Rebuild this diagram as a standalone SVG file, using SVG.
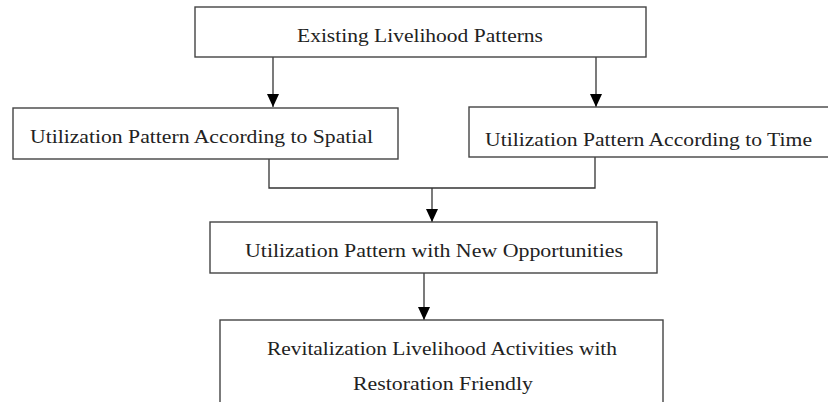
<svg xmlns="http://www.w3.org/2000/svg" width="828" height="402" viewBox="0 0 828 402">
<style>
.box{fill:#fff;stroke:#444;stroke-width:1.4}
.t{font-family:"Liberation Serif","Times New Roman",serif;font-size:19.5px;fill:#222;text-anchor:middle}
.c{fill:none;stroke:#333;stroke-width:1.3}
</style>
<defs>
<marker id="ah" markerUnits="userSpaceOnUse" markerWidth="12" markerHeight="14" viewBox="0 0 12 14" refX="6" refY="13" orient="0">
<path d="M0,0 L12,0 L6,13 Z" fill="#000"/>
</marker>
</defs>
<rect width="828" height="402" fill="#fff"/>
<g id="connectors">
<path class="c" d="M273,57 V107" marker-end="url(#ah)"/>
<path class="c" d="M596,57 V107" marker-end="url(#ah)"/>
<path class="c" d="M269,159 V188 H595 V157"/>
<path class="c" d="M432,188 V222" marker-end="url(#ah)"/>
<path class="c" d="M424,273 V320" marker-end="url(#ah)"/>
</g>
<g id="n1">
<rect class="box" x="195" y="7" width="451" height="50"/>
<text class="t" x="420" y="42" textLength="246" lengthAdjust="spacingAndGlyphs">Existing Livelihood Patterns</text>
</g>
<g id="n2">
<rect class="box" x="13" y="108" width="385" height="51"/>
<text class="t" x="201.5" y="143" textLength="343" lengthAdjust="spacingAndGlyphs">Utilization Pattern According to Spatial</text>
</g>
<g id="n3">
<rect class="box" x="469" y="107" width="360" height="50"/>
<text class="t" x="648.5" y="146" textLength="327" lengthAdjust="spacingAndGlyphs">Utilization Pattern According to Time</text>
</g>
<g id="n4">
<rect class="box" x="210" y="222" width="447" height="51"/>
<text class="t" x="434" y="257" textLength="378" lengthAdjust="spacingAndGlyphs">Utilization Pattern with New Opportunities</text>
</g>
<g id="n5">
<rect class="box" x="220" y="320" width="443" height="100"/>
<text class="t" x="442" y="355" textLength="350" lengthAdjust="spacingAndGlyphs">Revitalization Livelihood Activities with</text>
<text class="t" x="443" y="390" textLength="180" lengthAdjust="spacingAndGlyphs">Restoration Friendly</text>
</g>
</svg>
